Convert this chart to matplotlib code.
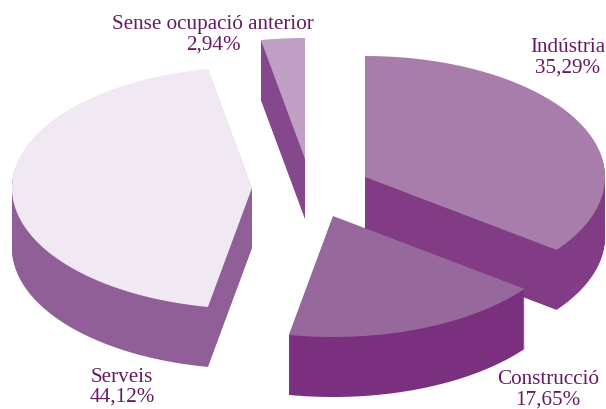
#matplotlib
import numpy as np
import matplotlib
matplotlib.use('Agg')
import matplotlib.pyplot as plt
from matplotlib.patches import Polygon

# shares in %, clockwise from 12 o'clock
names  = ['Indústria', 'Construcció', 'Serveis', 'Sense ocupació anterior']
values = [35.29, 17.65, 44.12, 2.94]
labels = ['35,29%', '17,65%', '44,12%', '2,94%']

# apex of each exploded slice, in pixels
apex_x = [365, 333, 252, 305]
apex_y = [177, 216, 188, 159]
top_c  = ['#A87DAB', '#96689B', '#F0E8F2', '#BFA0C4']
side_c = ['#823C85', '#7B2F7F', '#915F98', '#86488C']
text_x = [568, 548, 122, 213]
text_y = [48, 380, 377, 25]
text_c = '#661A62'

rx, ry, depth = 240, 121, 60

fig = plt.figure(figsize=(6.06, 4.09), dpi=100)
ax = fig.add_axes([0, 0, 1, 1])
ax.set_xlim(0, 606)
ax.set_ylim(409, 0)
ax.axis('off')

starts = np.cumsum([0] + values[:-1]) / 100 * 2 * np.pi
sweeps = np.array(values) / 100 * 2 * np.pi

# back slices first so the front ones sit on top
for i in [3, 2, 0, 1]:
    t = np.linspace(starts[i], starts[i] + sweeps[i], 120)
    xs = np.r_[apex_x[i], apex_x[i] + rx * np.sin(t)]
    ys = np.r_[apex_y[i], apex_y[i] - ry * np.cos(t)]
    # side wall = top shape swept downwards
    for d in range(depth, 0, -1):
        ax.add_patch(Polygon(np.c_[xs, ys + d], closed=True, fc=side_c[i], ec='none'))
    ax.add_patch(Polygon(np.c_[xs, ys], closed=True, fc=top_c[i], ec='none'))

for i in range(4):
    ax.text(text_x[i], text_y[i], names[i], family='Liberation Serif', fontsize=15.2,
            color=text_c, ha='center', va='center')
    ax.text(text_x[i], text_y[i] + 20, labels[i], family='Liberation Serif', fontsize=15.2,
            color=text_c, ha='center', va='center')

fig.savefig('out.png', dpi=100)
